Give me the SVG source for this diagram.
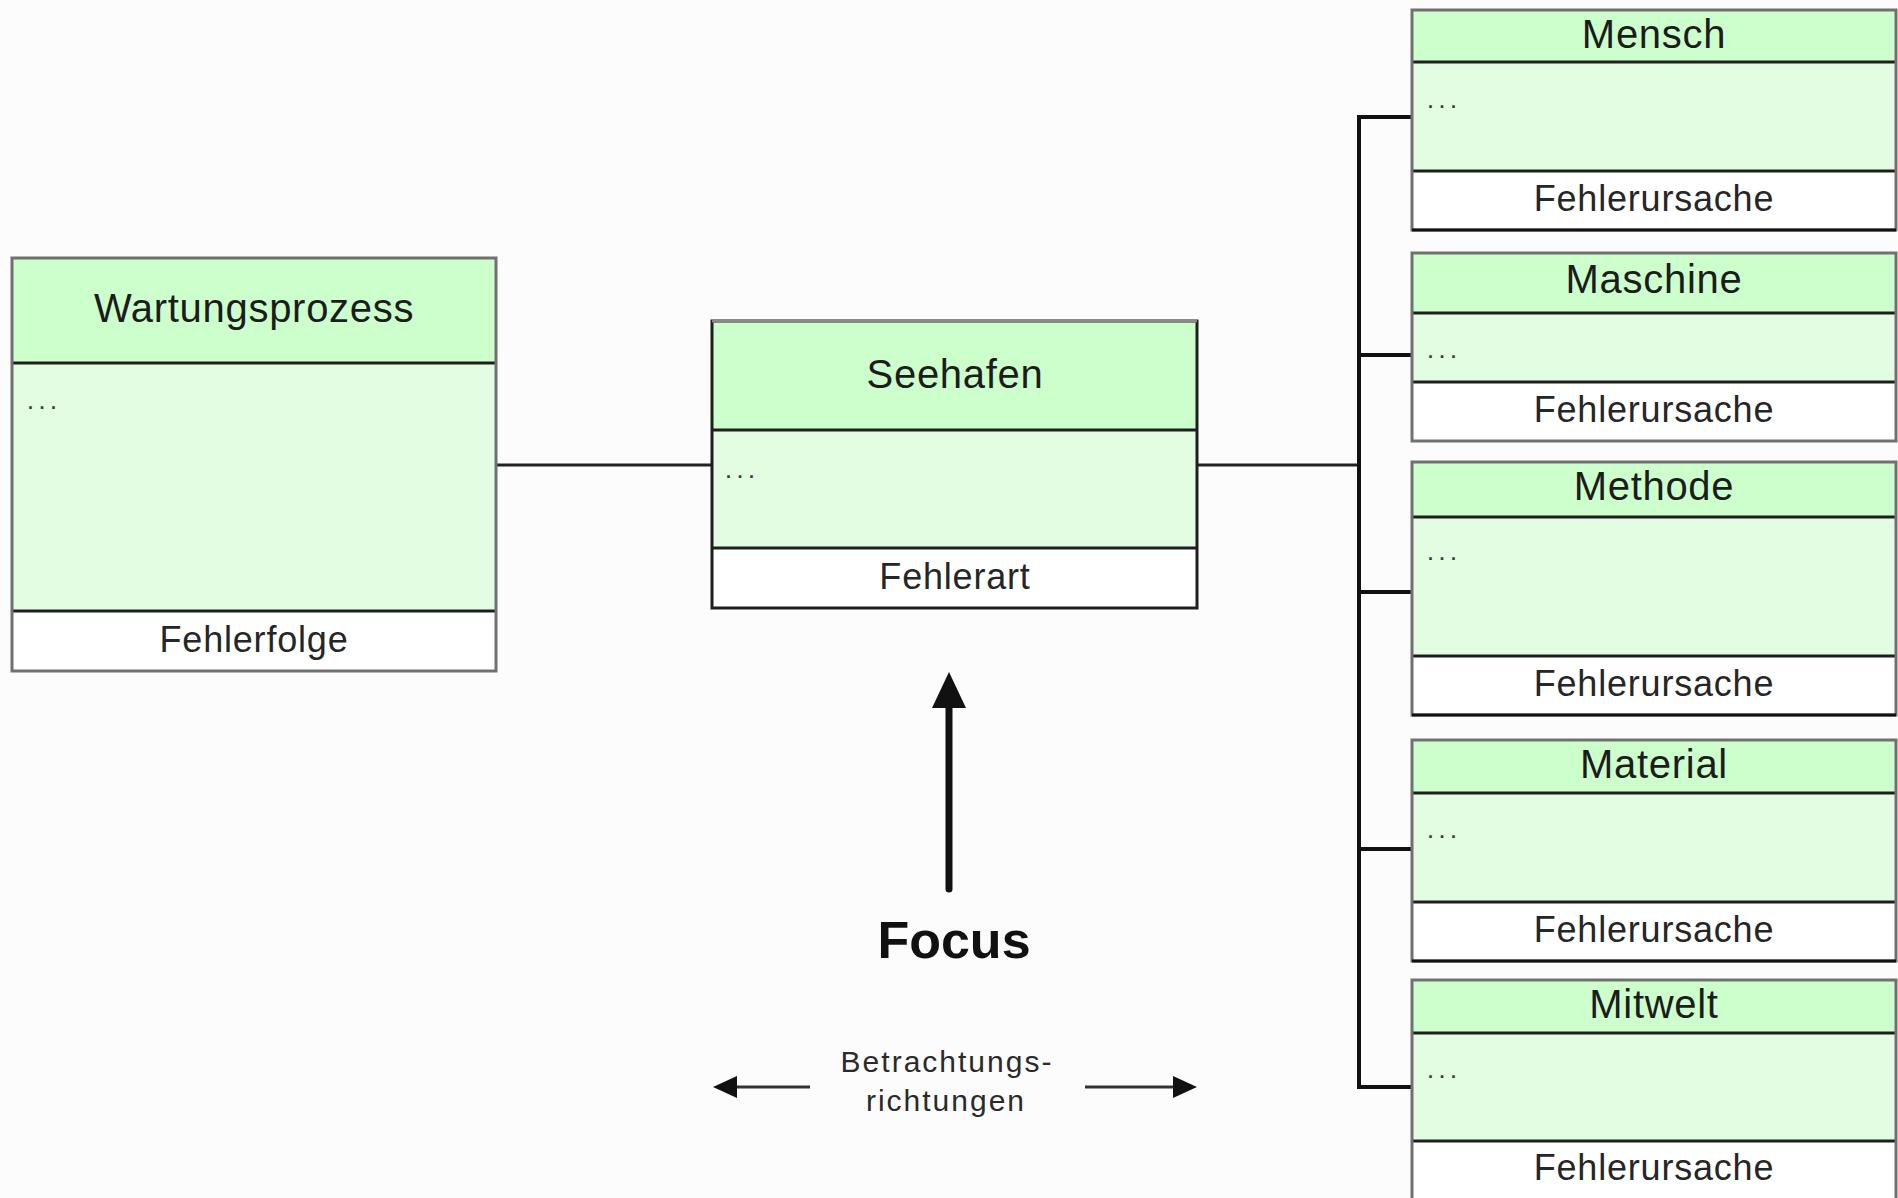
<svg xmlns="http://www.w3.org/2000/svg" width="1898" height="1198" viewBox="0 0 1898 1198">
  <defs>
    <style>
      .head { fill: #ccffcc; }
      .body { fill: #e2fde2; }
      .foot { fill: #ffffff; }
      .frame { fill: none; stroke: #707070; stroke-width: 3; }
      .sep { stroke: #1e1e1e; stroke-width: 3; }
      .title { font-family: "Liberation Sans", Arial, sans-serif; font-size: 40px; fill: #1c1c1c; text-anchor: middle; letter-spacing: 0.7px; }
      .label { font-family: "Liberation Sans", Arial, sans-serif; font-size: 36px; fill: #262626; text-anchor: middle; letter-spacing: 0.8px; }
      .dots { font-family: "Liberation Sans", Arial, sans-serif; font-size: 18px; font-weight: bold; fill: #3a3a3a; letter-spacing: 6.5px; }
      .wire { fill: none; stroke: #111111; stroke-width: 4; }
      .thin { fill: none; stroke: #222222; stroke-width: 3; }
      .focus { font-family: "Liberation Sans", Arial, sans-serif; font-size: 52px; font-weight: bold; fill: #111111; text-anchor: middle; }
      .dir { font-family: "Liberation Sans", Arial, sans-serif; font-size: 30px; fill: #2a2a2a; text-anchor: middle; letter-spacing: 2px; }
    </style>
  </defs>

  <rect x="0" y="0" width="1898" height="1198" fill="#fcfcfc"/>

  <!-- connectors -->
  <g id="connectors">
    <line class="thin" x1="496" y1="465" x2="712" y2="465"/>
    <line class="thin" x1="1197" y1="465" x2="1359" y2="465"/>
    <path class="wire" d="M1412 117 H1359 V1087 H1412"/>
    <line class="wire" x1="1359" y1="355" x2="1412" y2="355"/>
    <line class="wire" x1="1359" y1="592" x2="1412" y2="592"/>
    <line class="wire" x1="1359" y1="849" x2="1412" y2="849"/>
  </g>

  <!-- left: Wartungsprozess -->
  <g id="wartungsprozess">
    <rect class="head" x="12" y="258" width="484" height="105"/>
    <rect class="body" x="12" y="363" width="484" height="248"/>
    <rect class="foot" x="12" y="611" width="484" height="60"/>
    <line class="sep" x1="12" y1="363" x2="496" y2="363"/>
    <line class="sep" x1="12" y1="611" x2="496" y2="611"/>
    <rect class="frame" x="12" y="258" width="484" height="413"/>
    <text class="title" x="254" y="322">Wartungsprozess</text>
    <text class="dots" x="28" y="409">...</text>
    <text class="label" x="254" y="652">Fehlerfolge</text>
  </g>

  <!-- centre: Seehafen -->
  <g id="seehafen">
    <rect class="head" x="712" y="321" width="485" height="109"/>
    <rect class="body" x="712" y="430" width="485" height="118"/>
    <rect class="foot" x="712" y="548" width="485" height="60"/>
    <line class="sep" x1="712" y1="430" x2="1197" y2="430"/>
    <line class="sep" x1="712" y1="548" x2="1197" y2="548"/>
    <rect class="frame" x="712" y="321" width="485" height="287" style="stroke:#1e1e1e"/>
    <line x1="712" y1="321" x2="1197" y2="321" stroke="#8a8a8a" stroke-width="3"/>
    <text class="title" x="955" y="388">Seehafen</text>
    <text class="dots" x="726" y="478">...</text>
    <text class="label" x="955" y="589">Fehlerart</text>
  </g>

  <!-- right: cause categories -->
  <g id="mensch">
    <rect class="head" x="1412" y="10" width="484" height="52"/>
    <rect class="body" x="1412" y="62" width="484" height="109"/>
    <rect class="foot" x="1412" y="171" width="484" height="59"/>
    <line class="sep" x1="1412" y1="62" x2="1896" y2="62"/>
    <line class="sep" x1="1412" y1="171" x2="1896" y2="171"/>
    <rect class="frame" x="1412" y="10" width="484" height="220"/>
    <line x1="1412" y1="230" x2="1896" y2="230" stroke="#111" stroke-width="3"/>
    <text class="title" x="1654" y="48">Mensch</text>
    <text class="dots" x="1428" y="108">...</text>
    <text class="label" x="1654" y="211">Fehlerursache</text>
  </g>

  <g id="maschine">
    <rect class="head" x="1412" y="253" width="484" height="60"/>
    <rect class="body" x="1412" y="313" width="484" height="69"/>
    <rect class="foot" x="1412" y="382" width="484" height="59"/>
    <line class="sep" x1="1412" y1="313" x2="1896" y2="313"/>
    <line class="sep" x1="1412" y1="382" x2="1896" y2="382"/>
    <rect class="frame" x="1412" y="253" width="484" height="188"/>
    <text class="title" x="1654" y="293">Maschine</text>
    <text class="dots" x="1428" y="358">...</text>
    <text class="label" x="1654" y="422">Fehlerursache</text>
  </g>

  <g id="methode">
    <rect class="head" x="1412" y="462" width="484" height="55"/>
    <rect class="body" x="1412" y="517" width="484" height="139"/>
    <rect class="foot" x="1412" y="656" width="484" height="59"/>
    <line class="sep" x1="1412" y1="517" x2="1896" y2="517"/>
    <line class="sep" x1="1412" y1="656" x2="1896" y2="656"/>
    <rect class="frame" x="1412" y="462" width="484" height="253"/>
    <line x1="1412" y1="715" x2="1896" y2="715" stroke="#111" stroke-width="3"/>
    <text class="title" x="1654" y="500">Methode</text>
    <text class="dots" x="1428" y="560">...</text>
    <text class="label" x="1654" y="696">Fehlerursache</text>
  </g>

  <g id="material">
    <rect class="head" x="1412" y="740" width="484" height="53"/>
    <rect class="body" x="1412" y="793" width="484" height="109"/>
    <rect class="foot" x="1412" y="902" width="484" height="59"/>
    <line class="sep" x1="1412" y1="793" x2="1896" y2="793"/>
    <line class="sep" x1="1412" y1="902" x2="1896" y2="902"/>
    <rect class="frame" x="1412" y="740" width="484" height="221"/>
    <line x1="1412" y1="961" x2="1896" y2="961" stroke="#111" stroke-width="3"/>
    <text class="title" x="1654" y="778">Material</text>
    <text class="dots" x="1428" y="838">...</text>
    <text class="label" x="1654" y="942">Fehlerursache</text>
  </g>

  <g id="mitwelt">
    <rect class="head" x="1412" y="980" width="484" height="53"/>
    <rect class="body" x="1412" y="1033" width="484" height="108"/>
    <rect class="foot" x="1412" y="1141" width="484" height="62"/>
    <line class="sep" x1="1412" y1="1033" x2="1896" y2="1033"/>
    <line class="sep" x1="1412" y1="1141" x2="1896" y2="1141"/>
    <rect class="frame" x="1412" y="980" width="484" height="223"/>
    <text class="title" x="1654" y="1018">Mitwelt</text>
    <text class="dots" x="1428" y="1078">...</text>
    <text class="label" x="1654" y="1180">Fehlerursache</text>
  </g>

  <!-- focus marker -->
  <g id="focus">
    <line x1="949" y1="705" x2="949" y2="889" stroke="#111" stroke-width="7" stroke-linecap="round"/>
    <polygon points="949,672 966,708 932,708" fill="#111"/>
    <text class="focus" x="954" y="958">Focus</text>
  </g>

  <!-- viewing directions -->
  <g id="betrachtungsrichtungen">
    <line x1="735" y1="1087" x2="810" y2="1087" stroke="#333" stroke-width="3"/>
    <polygon points="713,1087 737,1076 737,1098" fill="#111"/>
    <line x1="1085" y1="1087" x2="1175" y2="1087" stroke="#333" stroke-width="3"/>
    <polygon points="1197,1087 1173,1076 1173,1098" fill="#111"/>
    <text class="dir" x="947" y="1072">Betrachtungs-</text>
    <text class="dir" x="946" y="1111">richtungen</text>
  </g>
</svg>
